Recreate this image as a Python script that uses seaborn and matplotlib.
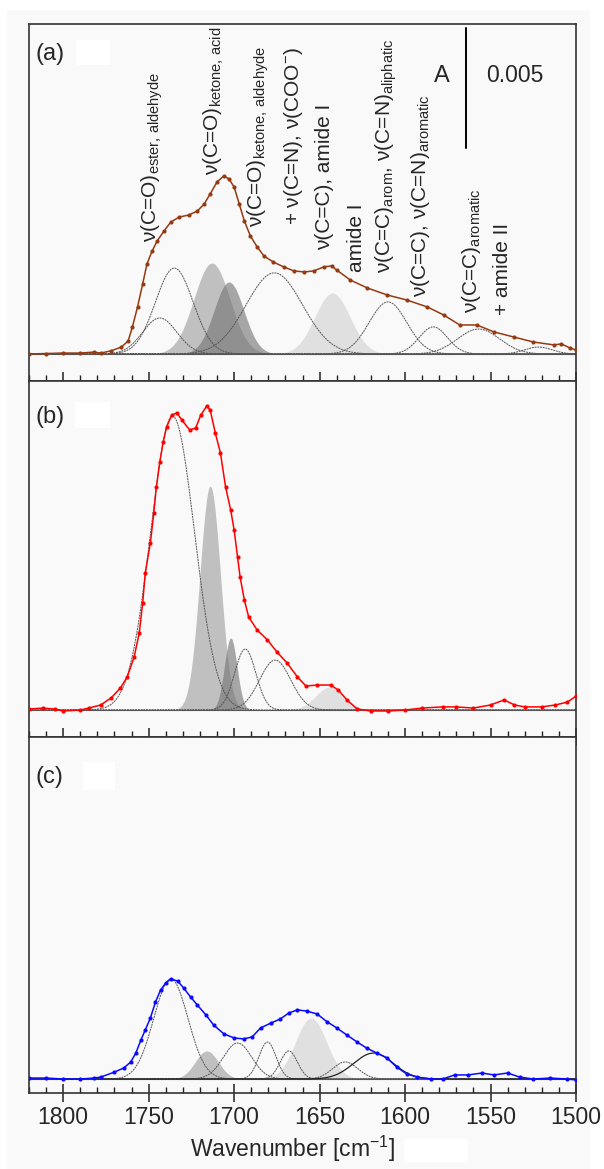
import numpy as np
import matplotlib
matplotlib.use("Agg")
import matplotlib.pyplot as plt
from matplotlib.ticker import MultipleLocator
from matplotlib.patches import Rectangle
import seaborn as sns

# ---- data (absorbance in mA, wavenumber in cm-1) ----
wn_a = [1820, 1810, 1800, 1790, 1782, 1778, 1772, 1766, 1762, 1759.5, 1756.5, 1753.5, 1751,
        1748, 1745, 1741, 1737, 1732, 1726.5, 1721.5, 1717.5, 1714, 1710, 1706, 1703, 1700,
        1697, 1694, 1690.5, 1686.5, 1682.5, 1677, 1671, 1665, 1659, 1653.5, 1647.5, 1643,
        1640, 1632, 1622, 1610.5, 1599, 1587, 1577.5, 1568, 1558, 1548, 1536.5, 1525, 1513,
        1508.5, 1503.5, 1500]
abs_a = [0.00, 0.02, 0.04, 0.04, 0.08, 0.04, 0.13, 0.29, 0.54, 1.13, 1.96, 2.92, 3.75,
         4.29, 4.71, 5.13, 5.50, 5.71, 5.79, 5.96, 6.25, 6.67, 7.17, 7.42, 7.29, 6.96,
         6.25, 5.54, 4.92, 4.46, 4.08, 3.83, 3.63, 3.46, 3.42, 3.46, 3.63, 3.67,
         3.50, 3.08, 2.75, 2.46, 2.25, 1.96, 1.63, 1.21, 1.21, 0.92, 0.71, 0.50, 0.38,
         0.42, 0.25, 0.17]

wn_b = [1820, 1812, 1805, 1800, 1790, 1785, 1778, 1772, 1766.5, 1762.5, 1758.5, 1755.5,
        1753.5, 1752, 1749, 1747, 1745.5, 1743.5, 1741.5, 1739.5, 1736.5, 1733.5, 1730.5,
        1726, 1722.5, 1719.5, 1716, 1714, 1711, 1708, 1705, 1702, 1700, 1698, 1696.5, 1694,
        1691.5, 1686.5, 1680.5, 1675, 1669, 1663, 1658, 1651.5, 1643.5, 1639, 1634, 1628,
        1620, 1610, 1600, 1590, 1578, 1570, 1560, 1550, 1542, 1536, 1530, 1520, 1512, 1505,
        1500]
abs_b = [0.04, 0.08, 0.04, -0.04, 0.00, 0.08, 0.21, 0.50, 0.92, 1.38, 2.21, 3.21,
         4.46, 5.71, 6.96, 8.21, 9.29, 10.33, 11.17, 11.79, 12.29, 12.38, 12.08,
         11.67, 11.75, 12.29, 12.67, 12.50, 11.54, 10.71, 9.29, 8.33, 7.50, 6.38, 5.54, 4.58,
         3.88, 3.33, 2.92, 2.42, 1.96, 1.38, 1.00, 1.04, 1.04, 0.83, 0.42, 0.04,
         -0.04, -0.04, 0.00, 0.08, 0.13, 0.13, 0.08, 0.21, 0.42, 0.21, 0.13, 0.13, 0.21, 0.33,
         0.58]

wn_c = [1820, 1810, 1800, 1790, 1782, 1778, 1770, 1764.5, 1760.5, 1757.5, 1754.5, 1752,
        1749, 1746, 1743, 1740, 1737, 1733, 1729.5, 1725.5, 1721.5, 1716.5, 1712, 1706,
        1700, 1694.5, 1689.5, 1684.5, 1678.5, 1673, 1668, 1663, 1657.5, 1651.5, 1645.5,
        1640, 1634, 1628, 1622.5, 1616.5, 1610.5, 1605, 1599, 1593, 1585, 1578, 1571, 1563,
        1555, 1548, 1540, 1533, 1525, 1515, 1505, 1500]
abs_c = [0.04, 0.04, 0.00, 0.00, 0.04, 0.08, 0.29, 0.46, 0.71, 1.08, 1.63, 2.04,
         2.54, 3.21, 3.71, 4.00, 4.17, 4.08, 3.79, 3.42, 3.08, 2.67, 2.25, 1.88,
         1.71, 1.67, 1.75, 2.13, 2.33, 2.50, 2.75, 2.88, 2.83, 2.71, 2.38,
         2.13, 1.83, 1.54, 1.29, 1.08, 0.88, 0.50, 0.21, 0.08, 0.00, 0.00, 0.17, 0.17,
         0.25, 0.17, 0.25, 0.08, 0.00, 0.04, 0.00, -0.04]

# fitted bands: centre, height (mA), sigma, style
bands_a_center = [1743.5, 1735, 1713, 1703, 1676.5, 1642.5, 1610, 1583.5, 1557, 1522]
bands_a_height = [1.50, 3.58, 3.79, 3.00, 3.38, 2.54, 2.17, 1.13, 1.04, 0.29]
bands_a_sigma = [10, 11, 10.5, 8.7, 16.5, 10.3, 11, 8.3, 12.3, 8]
bands_a_style = ["line", "line", "mid", "dark", "line", "light", "line", "line", "line", "line"]

bands_b_center = [1736, 1714, 1702, 1693.5, 1676, 1644]
bands_b_height = [12.25, 9.33, 3.00, 2.54, 2.08, 0.96]
bands_b_sigma = [12.8, 6.0, 3.7, 6.2, 9.1, 8.3]
bands_b_style = ["line", "mid", "dark", "line", "line", "light"]

bands_c_center = [1737, 1716, 1698, 1680.5, 1668, 1655, 1635, 1618.5]
bands_c_height = [4.17, 1.17, 1.50, 1.54, 1.17, 2.54, 0.71, 1.08]
bands_c_sigma = [10, 6.8, 8.3, 5, 5, 9.1, 7.4, 11.5]
bands_c_style = ["line", "mid", "line", "line", "line", "light", "line", "black"]

labels_a = [
    (r"ν(C=O)$_{\mathrm{ester,}\,\mathrm{aldehyde}}$", 1748, 4.67),
    (r"ν(C=O)$_{\mathrm{ketone,}\,\mathrm{acid}}$", 1712, 7.46),
    (r"ν(C=O)$_{\mathrm{ketone,}\,\mathrm{aldehyde}}$", 1686, 5.29),
    (r"+ ν(C=N), ν(COO$^{-}$)", 1665, 5.37),
    (r"ν(C=C), amide I", 1647, 4.33),
    (r"amide I", 1628.5, 3.42),
    (r"ν(C=C)$_{\mathrm{arom}}$, ν(C=N)$_{\mathrm{aliphatic}}$", 1611, 3.37),
    (r"ν(C=C), ν(C=N)$_{\mathrm{aromatic}}$", 1591, 2.37),
    (r"ν(C=C)$_{\mathrm{aromatic}}$", 1561, 1.71),
    (r"+ amide II", 1543, 1.62),
]

panels = [
    ("(a)", wn_a, abs_a, "#963a12", bands_a_center, bands_a_height, bands_a_sigma, bands_a_style),
    ("(b)", wn_b, abs_b, "#ff0000", bands_b_center, bands_b_height, bands_b_sigma, bands_b_style),
    ("(c)", wn_c, abs_c, "#0a0aff", bands_c_center, bands_c_height, bands_c_sigma, bands_c_style),
]

sns.set_style("ticks")
plt.rcParams["font.family"] = ["Liberation Sans", "DejaVu Sans"]
plt.rcParams["mathtext.fontset"] = "custom"
plt.rcParams["mathtext.rm"] = "Liberation Sans"
plt.rcParams["mathtext.it"] = "Liberation Sans:italic"
plt.rcParams["mathtext.bf"] = "Liberation Sans:bold"

bg = "#f9f9f9"
fig = plt.figure(figsize=(6.04, 11.69), dpi=100, facecolor="white")
fig.patches.append(Rectangle((7 / 604, 0), 583 / 604, 1 - 10 / 1169, transform=fig.transFigure,
                             facecolor=bg, edgecolor="none", zorder=-10))

H = 1169.0
left, width = 29 / 604, 547 / 604
rows = [(24, 381), (381, 737), (737, 1093)]
ylims = [(-1.125, 13.75), (-1.125, 13.71), (-0.583, 14.25)]
label_y = [0.916, 0.899, 0.888]

fills = {"mid": ("#9a9a9a", 0.6), "dark": ("#707070", 0.6), "light": ("#d0d0d0", 0.6)}
grid = np.linspace(1820, 1500, 1281)

axes = []
for i, (name, wn, ab, col, bc, bh, bs, bst) in enumerate(panels):
    top, bot = rows[i]
    ax = fig.add_axes([left, 1 - bot / H, width, (bot - top) / H])
    ax.set_facecolor(bg)
    axes.append(ax)

    for c, h, s, st in zip(bc, bh, bs, bst):
        g = h * np.exp(-0.5 * ((grid - c) / s) ** 2)
        if st in fills:
            fc, al = fills[st]
            ax.fill_between(grid, 0, g, color=fc, alpha=al, lw=0, zorder=1)
        elif st == "black":
            ax.plot(grid, g, color="#222222", lw=0.9, zorder=2)
        else:
            ax.plot(grid, g, color="#555555", lw=0.7, ls=(0, (2, 0.8)), zorder=2)

    ax.axhline(0, color="#555555", lw=0.8, zorder=1.5)
    sns.lineplot(x=wn, y=ab, ax=ax, color=col, lw=1.1, marker="o", markersize=3.0,
                 markeredgewidth=0, zorder=3)

    ax.set_xlim(1820, 1500)
    ax.set_ylim(*ylims[i])
    ax.set_yticks([])
    ax.set_ylabel("")
    ax.xaxis.set_major_locator(MultipleLocator(50))
    ax.xaxis.set_minor_locator(MultipleLocator(10))
    ax.tick_params(axis="x", which="major", direction="inout", length=13, width=1.1,
                   color="#222222", labelsize=16.5, pad=3)
    ax.tick_params(axis="x", which="minor", direction="in", length=4, width=1.0, color="#222222")
    for sp in ax.spines.values():
        sp.set_visible(True)
        sp.set_color("#333333")
        sp.set_linewidth(1.2)
    if i < 2:
        ax.tick_params(axis="x", labelbottom=False)
    ax.text(0.012, label_y[i], name, transform=ax.transAxes, fontsize=17, ha="left", va="center")

ax = axes[0]
for txt, x, y in labels_a:
    ax.text(x, y, txt, rotation=90, ha="center", va="bottom", fontsize=15)

# scale bar
ax.plot([1564.5, 1564.5], [8.58, 13.58], color="black", lw=1.4)
ax.text(1578.5, 11.6, "A", fontsize=17, ha="center", va="center")
ax.text(1536, 11.6, "0.005", fontsize=16.5, ha="center", va="center")

fig.text(293 / 604, 1 - 1149 / H, r"Wavenumber [cm$^{-1}$]", fontsize=16.5, ha="center", va="center")

# blanked boxes present in the source image
for (x0, y0, x1, y1) in [(76, 40, 110, 65), (75, 402, 110, 428), (83, 762, 115, 790),
                         (404, 1139, 468, 1162)]:
    fig.patches.append(Rectangle((x0 / 604, 1 - y1 / H), (x1 - x0) / 604, (y1 - y0) / H,
                                 transform=fig.transFigure, facecolor="white",
                                 edgecolor="none", zorder=10))

fig.savefig("out.png", dpi=100, facecolor="white")
